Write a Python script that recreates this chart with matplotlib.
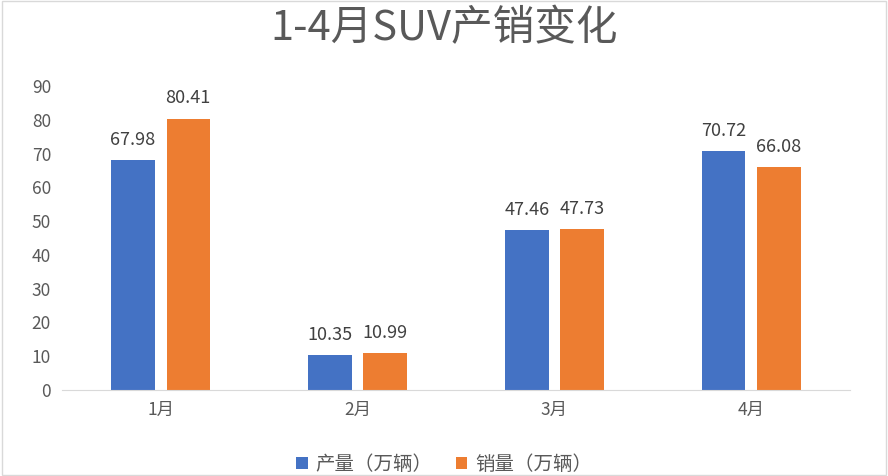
import matplotlib.pyplot as plt
import numpy as np

plt.rcParams['font.family'] = ['Noto Sans CJK SC', 'DejaVu Sans']

months = ['1月', '2月', '3月', '4月']
production = [67.98, 10.35, 47.46, 70.72]
sales = [80.41, 10.99, 47.73, 66.08]
yticks = [0, 10, 20, 30, 40, 50, 60, 70, 80, 90]

fig = plt.figure(figsize=(8.88, 4.76), dpi=100)
ax = fig.add_axes([0.07, 0.181, 0.887, 0.638])
x = np.arange(len(months))
w = 0.22
b1 = ax.bar(x - 0.14, production, w, color='#4472C4', label='产量（万辆）')
b2 = ax.bar(x + 0.14, sales, w, color='#ED7D31', label='销量（万辆）')
for bars in (b1, b2):
    ax.bar_label(bars, fmt='%.2f', padding=8, fontsize=13, color='#404040')

ax.set_xlim(-0.5, 3.5)
ax.set_ylim(0, 90)
ax.set_yticks(yticks)
ax.set_xticks(x, months)
ax.tick_params(axis='both', length=0, labelsize=12.5, colors='#595959', pad=8)
for s in ['top', 'right', 'left']:
    ax.spines[s].set_visible(False)
ax.spines['bottom'].set_color('#D9D9D9')

fig.text(0.5, 0.94, '1-4月SUV产销变化', ha='center', va='center', fontsize=30,
         color='#595959', fontweight='light')
fig.legend(loc='center', bbox_to_anchor=(0.5, 0.025), ncol=2, frameon=False,
           fontsize=14, handlelength=0.6, handleheight=0.6, columnspacing=1.2,
           handletextpad=0.4, labelcolor='#595959')
fig.patches.append(plt.Rectangle((0.002, 0.002), 0.996, 0.996, transform=fig.transFigure,
                                 fill=False, edgecolor='#D9D9D9', lw=1))
fig.savefig('out.png')
